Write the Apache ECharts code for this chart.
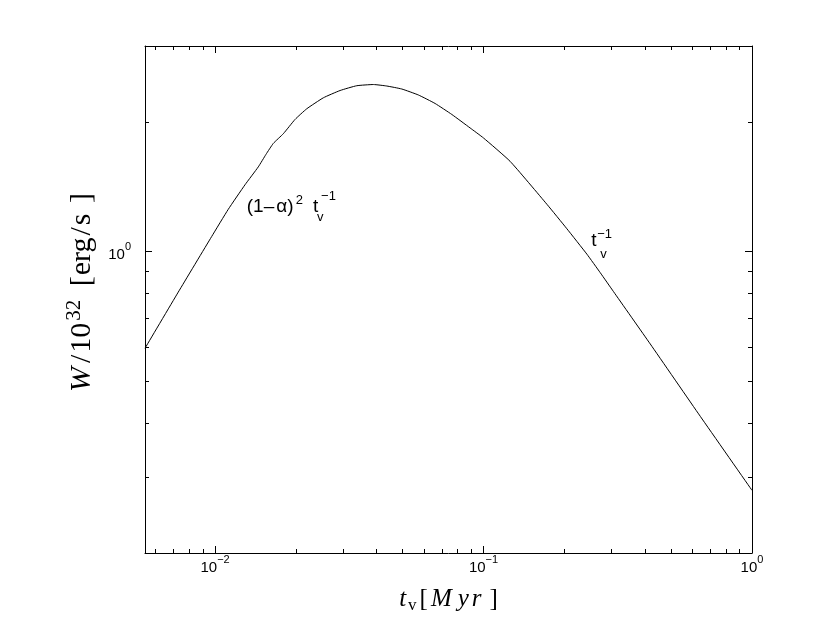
<!DOCTYPE html>
<html><head><meta charset="utf-8">
<script src="https://cdn.jsdelivr.net/npm/echarts@6/dist/echarts.min.js"></script>
<style>html,body{margin:0;padding:0;background:#fff}#c{width:830px;height:623px}</style>
</head><body><div id="c"></div>
<script>
// ---- data ----
const tv = [0.005482, 0.007292, 0.009712, 0.011198, 0.012924, 0.014488, 0.015477, 0.016477, 0.017954, 0.019851,
            0.021952, 0.025309, 0.029215, 0.033711, 0.038883, 0.043610, 0.049600, 0.057204, 0.066015, 0.076172,
            0.089125, 0.099908, 0.125603, 0.172187, 0.204392, 0.242661, 0.272021, 0.304860, 0.417830, 0.641735, 1.0];
const W = [0.5970, 0.8058, 1.0844, 1.2541, 1.4294, 1.5731, 1.6818, 1.7831, 1.8776, 2.0263,
           2.1454, 2.2749, 2.3651, 2.4265, 2.4420, 2.4226, 2.3842, 2.3092, 2.2067, 2.0813,
           1.9365, 1.8360, 1.6202, 1.2882, 1.1303, 0.9868, 0.8941, 0.8079, 0.6108, 0.4150, 0.2795];
const xRange = [0.005482, 1];
const yRange = [0.2, 3];
const xMajor = [0.01, 0.1, 1];
const xMinor = [0.006, 0.007, 0.008, 0.009, 0.02, 0.03, 0.04, 0.05, 0.06, 0.07, 0.08, 0.09,
                0.2, 0.3, 0.4, 0.5, 0.6, 0.7, 0.8, 0.9];
const yMajor = [1];
const yMinor = [0.3, 0.4, 0.5, 0.6, 0.7, 0.8, 0.9, 2];
const ann1 = {x: 0.01312, y: 1.268};
const ann2 = {x: 0.2518, y: 1.060};

// ---- chart ----
const chart = echarts.init(document.getElementById('c'), null, {renderer: 'canvas'});
const SANS = 'Liberation Sans, Arial, Helvetica, sans-serif';
const SERIF = 'Liberation Serif, Times New Roman, serif';

function expLabel(v) {
  const e = Math.round(Math.log10(v));
  return '{base|10}{sup|' + (e < 0 ? '\u2212' + (-e) : String(e)) + '}';
}
const labelRich = {
  base: {fontFamily: SANS, fontSize: 15, color: '#000', verticalAlign: 'bottom', lineHeight: 21},
  sup: {fontFamily: SANS, fontSize: 11, color: '#000', verticalAlign: 'top', lineHeight: 12}
};

function axis(kind, pos, ticks, len, showLine, showLabel) {
  const isX = kind === 'x';
  return {
    type: 'log', logBase: 10, position: pos,
    min: isX ? xRange[0] : yRange[0], max: isX ? xRange[1] : yRange[1],
    axisLine: {show: showLine, onZero: false, lineStyle: {color: '#000', width: 1}},
    axisTick: {show: true, inside: true, length: len, customValues: ticks,
               lineStyle: {color: '#000', width: 1}},
    axisLabel: {show: showLabel, customValues: isX ? xMajor : yMajor, formatter: expLabel,
                fontFamily: SANS, fontSize: 15, color: '#000',
                rich: labelRich, margin: isX ? 1 : 14, hideOverlap: false},
    splitLine: {show: false}, minorTick: {show: false},
    axisPointer: {show: false}
  };
}

const ser = (size, extra) => Object.assign({fontFamily: SERIF, fontSize: size, color: '#000'}, extra || {});
const xAxes = [
  Object.assign(axis('x', 'bottom', xMajor, 7, true, true), {
    name: '{t|t}{v|v}{lb|[}{m|M}{y|y}{r|r}{rb|]}', nameLocation: 'middle', nameGap: 34,
    nameTextStyle: {
      rich: {
        t: ser(25, {fontStyle: 'italic', padding: [0, 2, 0, 0], verticalAlign: 'top', lineHeight: 27}),
        v: ser(17, {padding: [0, 3, 0, 0], verticalAlign: 'bottom', lineHeight: 21}),
        lb: ser(25, {padding: [0, 3, 0, 0], verticalAlign: 'top', lineHeight: 27}),
        m: ser(25, {fontStyle: 'italic', padding: [0, 6, 0, 0], verticalAlign: 'top', lineHeight: 27}),
        y: ser(25, {fontStyle: 'italic', padding: [0, 3, 0, 0], verticalAlign: 'top', lineHeight: 27}),
        r: ser(25, {fontStyle: 'italic', padding: [0, 8, 0, 0], verticalAlign: 'top', lineHeight: 27}),
        rb: ser(25, {verticalAlign: 'top', lineHeight: 27})
      }
    }
  }),
  axis('x', 'bottom', xMinor, 4, false, false),
  axis('x', 'top', xMajor, 7, true, false),
  axis('x', 'top', xMinor, 4, false, false)
];
const yAxes = [
  Object.assign(axis('y', 'left', yMajor, 7, true, true), {
    name: '{w|W}{sl|/}{n|10}{s|32}{sp| }{lb|[}{l|erg}{sl|/}{l|s}{sp| }{rb|]}',
    nameLocation: 'middle', nameGap: 45, nameRotate: 90,
    nameTextStyle: {
      rich: {
        w: ser(30, {fontStyle: 'italic', padding: [0, 2, 0, 14], verticalAlign: 'bottom', lineHeight: 33}),
        sl: ser(30, {padding: [0, 2, 0, 2], verticalAlign: 'bottom', lineHeight: 33}),
        n: ser(30, {padding: [0, 1, 0, 0], verticalAlign: 'bottom', lineHeight: 33}),
        s: ser(21, {padding: [0, 3, 0, 1], verticalAlign: 'top', lineHeight: 22}),
        sp: ser(30, {padding: [0, 3, 0, 0], verticalAlign: 'bottom', lineHeight: 33}),
        lb: ser(30, {padding: [0, 1, 0, 0], verticalAlign: 'bottom', lineHeight: 33}),
        l: ser(30, {verticalAlign: 'bottom', lineHeight: 33}),
        rb: ser(30, {verticalAlign: 'bottom', lineHeight: 33})
      }
    }
  }),
  axis('y', 'left', yMinor, 4, false, false),
  axis('y', 'right', yMajor, 7, true, false),
  axis('y', 'right', yMinor, 4, false, false)
];

chart.setOption({
  animation: false,
  backgroundColor: '#fff',
  grid: {left: 145, top: 46, width: 607, height: 507, containLabel: false},
  xAxis: xAxes,
  yAxis: yAxes,
  series: [{
    type: 'line', xAxisIndex: 0, yAxisIndex: 0,
    data: tv.map((x, i) => [x, W[i]]),
    showSymbol: false, symbol: 'none', smooth: 0.15,
    lineStyle: {color: '#000', width: 1}
  }]
});

function annText(anchor, pieces) {
  const p = chart.convertToPixel({xAxisIndex: 0, yAxisIndex: 0}, [anchor.x, anchor.y]);
  return pieces.map(pc => ({
    type: 'text', x: p[0] + pc.dx, y: p[1] + pc.dy, silent: true,
    style: {text: pc.text, fontFamily: SANS, fontSize: pc.size, fill: '#000',
            align: 'left', verticalAlign: 'middle'}
  }));
}
chart.setOption({
  graphic: [].concat(
    annText(ann1, [
      {text: '(1\u2013', dx: 0, dy: 0, size: 19},
      {text: '\u03b1)', dx: 29.5, dy: 0, size: 19},
      {text: '2', dx: 49, dy: -6.5, size: 13},
      {text: 't', dx: 66.3, dy: 0, size: 19},
      {text: '\u22121', dx: 74.3, dy: -10.8, size: 13},
      {text: 'v', dx: 70.3, dy: 10, size: 13}
    ]),
    annText(ann2, [
      {text: 't', dx: 0, dy: 0, size: 19},
      {text: '\u22121', dx: 6, dy: -6, size: 13},
      {text: 'v', dx: 9, dy: 14, size: 13}
    ])
  )
});
</script></body></html>
